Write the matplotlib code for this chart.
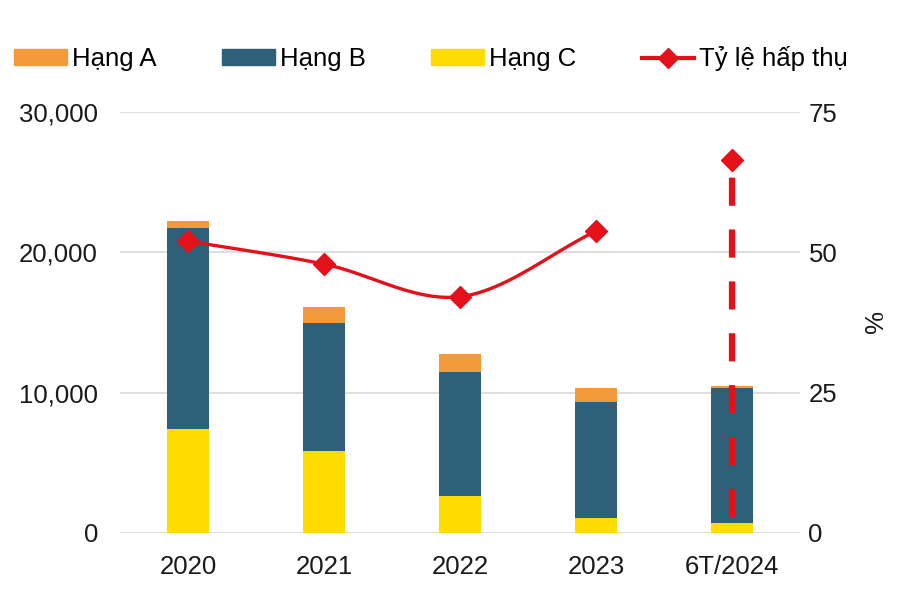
import numpy as np
import matplotlib.pyplot as plt
from matplotlib.patches import Patch
from matplotlib.lines import Line2D

plt.rcParams['font.family'] = ['Liberation Sans', 'DejaVu Sans']

# Dữ liệu
categories = ['2020', '2021', '2022', '2023', '6T/2024']
hang_c = [7400, 5850, 2600, 1050, 700]
hang_b = [14300, 9150, 8900, 8250, 9600]
hang_a = [500, 1100, 1250, 1000, 150]
ty_le = [52.0, 47.9, 42.1, 53.8]   # 2020-2023, đường liền
ty_le_6t = 66.5                    # 6T/2024
ty_le_6t_day = 2.8                 # đáy đường đứt

c_a = '#F39A3B'
c_b = '#2F6079'
c_c = '#FFDB00'
c_line = '#E4101A'


def catmull_rom(xs, ys, n=30):
    """Đường cong mượt kiểu Excel qua các điểm."""
    xs = np.asarray(xs, float)
    ys = np.asarray(ys, float)
    px = np.concatenate([[2 * xs[0] - xs[1]], xs, [2 * xs[-1] - xs[-2]]])
    py = np.concatenate([[2 * ys[0] - ys[1]], ys, [2 * ys[-1] - ys[-2]]])
    out_x, out_y = [], []
    for i in range(1, len(px) - 2):
        t = np.linspace(0, 1, n)
        for p, out in ((px, out_x), (py, out_y)):
            p0, p1, p2, p3 = p[i - 1], p[i], p[i + 1], p[i + 2]
            out.extend(0.5 * (2 * p1 + (-p0 + p2) * t
                              + (2 * p0 - 5 * p1 + 4 * p2 - p3) * t ** 2
                              + (-p0 + 3 * p1 - 3 * p2 + p3) * t ** 3))
    return np.array(out_x), np.array(out_y)


fig = plt.figure(figsize=(9, 6), dpi=100)
ax = fig.add_axes([0.1335, 0.1117, 0.7555, 0.7016])
x = np.arange(len(categories))
w = 0.31

ax.bar(x, hang_c, w, color=c_c, zorder=2)
ax.bar(x, hang_b, w, bottom=hang_c, color=c_b, zorder=2)
bot_a = np.array(hang_c) + np.array(hang_b)
ax.bar(x, hang_a, w, bottom=bot_a, color=c_a, zorder=2)

ax.set_xlim(-0.5, 4.5)
ax.set_ylim(0, 30000)
ax.set_yticks([0, 10000, 20000, 30000])
ax.set_yticklabels([f'{v:,}' for v in [0, 10000, 20000, 30000]])
ax.set_xticks(x)
ax.set_xticklabels(categories)
ax.grid(axis='y', color='#D9D9D9', linewidth=1.2, zorder=0)
ax.set_axisbelow(True)
for s in ax.spines.values():
    s.set_visible(False)
ax.tick_params(axis='both', length=0, labelsize=18.5, colors='#1a1a1a')
ax.tick_params(axis='y', pad=16)
ax.tick_params(axis='x', pad=16)

ax2 = ax.twinx()
ax2.set_ylim(0, 75)
ax2.set_yticks([0, 25, 50, 75])
for s in ax2.spines.values():
    s.set_visible(False)
ax2.tick_params(axis='y', length=0, labelsize=18.5, colors='#1a1a1a', pad=6)
ax2.set_ylabel('%', rotation=270, fontsize=18.5, labelpad=32, color='#1a1a1a')

sx, sy = catmull_rom(x[:4], ty_le)
ax2.plot(sx, sy, color=c_line, linewidth=2.4, zorder=3)
ax2.plot(x[:4], ty_le, linestyle='none', marker='D', markersize=11,
         color=c_line, zorder=4)
ax2.plot([x[4], x[4]], [ty_le_6t_day, ty_le_6t], color=c_line,
         linewidth=4.5, linestyle=(0, (4.5, 3.8)), zorder=3)
ax2.plot([x[4]], [ty_le_6t], linestyle='none', marker='D', markersize=11,
         color=c_line, zorder=4)

handles = [Patch(color=c_a), Patch(color=c_b), Patch(color=c_c),
           Line2D([0], [0], color=c_line, linewidth=3, marker='D', markersize=10)]
labels = ['Hạng A', 'Hạng B', 'Hạng C', 'Tỷ lệ hấp thụ']
fig.legend(handles, labels, loc='center', bbox_to_anchor=(0.479, 0.902), ncol=4,
           frameon=False, fontsize=18.5, handlelength=2.05, handleheight=0.55,
           handletextpad=0.2, columnspacing=2.55)

fig.savefig('out.png', dpi=100)
